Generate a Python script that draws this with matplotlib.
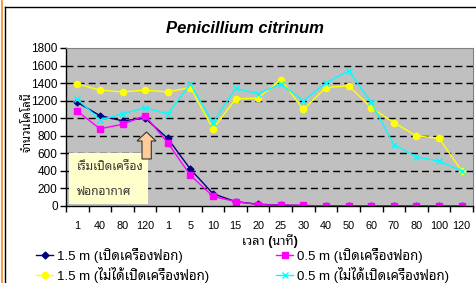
import matplotlib
matplotlib.use("Agg")
import matplotlib.pyplot as plt
import numpy as np
from matplotlib.patches import Rectangle, Polygon
from matplotlib.lines import Line2D

plt.rcParams['font.family'] = ['Liberation Sans', 'Noto Sans Thai Looped']

# เวลา (นาที)
cats = ['1', '40', '80', '120', '1', '5', '10', '15', '20', '25',
        '30', '40', '50', '60', '70', '80', '100', '120']
on_15 = [1180, 1030, 970, 1000, 770, 420, 140, 50, 20, 10, 5, 0, 0, 0, 0, 0, 0, 0]
on_05 = [1080, 880, 930, 1030, 720, 350, 110, 50, 15, 10, 8, 0, 0, 0, 0, 0, 0, 0]
off_15 = [1390, 1320, 1300, 1320, 1300, 1350, 880, 1220, 1230, 1440,
          1100, 1350, 1370, 1120, 950, 800, 770, 400]
off_05 = [1220, 980, 1050, 1120, 1050, 1390, 950, 1340, 1280, 1390,
          1200, 1400, 1540, 1180, 700, 560, 510, 400]

W, H = 477, 283
fig = plt.figure(figsize=(W / 100, H / 100), dpi=100)
ax = fig.add_axes([66 / W, 1 - 206 / H, 407 / W, 158 / H])
ax.set_facecolor('#C0C0C0')

x = np.arange(len(cats))
l1, = ax.plot(x, on_15, color='#000080', marker='D', ms=3.5, lw=1, label='1.5 m (เปิดเครื่องฟอก)')
l2, = ax.plot(x, on_05, color='#FF00FF', marker='s', ms=4.5, lw=1, label='0.5 m (เปิดเครื่องฟอก)')
l3, = ax.plot(x, off_15, color='#FFFF00', marker='o', ms=4.5, lw=1, label='1.5 m (ไม่ได้เปิดเครื่องฟอก)')
l4, = ax.plot(x, off_05, color='#00FFFF', marker='x', ms=5, mew=1, lw=1, label='0.5 m (ไม่ได้เปิดเครื่องฟอก)')

ax.set_xlim(-0.5, len(cats) - 0.5)
ax.set_ylim(0, 1800)
ax.set_yticks(np.arange(0, 1801, 200))
for v in range(200, 1800, 200):
    ax.axhline(v, color='black', lw=1, dashes=(5, 3), zorder=0.5)

ax.set_xticks(x)
ax.set_xticklabels(cats, fontsize=7.8)
ax.set_xticks(np.arange(-0.5, len(cats)), minor=True)
ax.tick_params(axis='x', which='major', length=0, pad=11)
ax.tick_params(axis='x', which='minor', length=4, width=1, direction='out')
ax.tick_params(axis='y', length=4, width=1, direction='out', labelsize=8.5, pad=2)

for s in ['top', 'right']:
    ax.spines[s].set_color('#808080')
    ax.spines[s].set_linewidth(0.8)
for s in ['left', 'bottom']:
    ax.spines[s].set_color('black')
    ax.spines[s].set_linewidth(1)

ax.set_xlabel('เวลา (นาที)', fontsize=9, fontweight='bold', labelpad=2)
ax.set_ylabel('จำนวนโคโลนี', fontsize=8.2, fontweight='bold')
ax.yaxis.set_label_coords(-0.082, 0.53)

# กล่องข้อความ
ax.add_patch(Rectangle((0.0074, 0.0127), 0.194, 0.322, transform=ax.transAxes,
                       facecolor='#FFFFCC', edgecolor='none', zorder=5))
ax.text(0.027, 0.25, 'เริ่มเปิดเครื่อง', transform=ax.transAxes, fontsize=8.5,
        va='center', color='#333333', zorder=6)
ax.text(0.027, 0.09, 'ฟอกอากาศ', transform=ax.transAxes, fontsize=8.5,
        va='center', color='#333333', zorder=6)

# ลูกศร
pts = [(146.5, 132), (156, 141), (151.3, 141), (151.3, 159), (142, 159), (142, 141), (137, 141)]
fig.patches.append(Polygon([(px / W, 1 - py / H) for px, py in pts], closed=True,
                           transform=fig.transFigure, facecolor='#FFCC99',
                           edgecolor='#333333', lw=0.8, zorder=7))

fig.text(245 / W, 1 - 28.5 / H, 'Penicillium citrinum', fontsize=12, fontweight='bold',
         fontstyle='italic', ha='center', va='center')

# กรอบ
fig.add_artist(Line2D([5 / W, 1], [1 - 7 / H, 1 - 7 / H], color='black', lw=1, transform=fig.transFigure))
fig.add_artist(Line2D([5 / W, 5 / W], [0, 1 - 7 / H], color='black', lw=1, transform=fig.transFigure))
fig.add_artist(Line2D([1.5 / W, 1.5 / W], [0, 1], color='#F0A050', lw=1.5, transform=fig.transFigure))

leg1 = fig.legend(handles=[l1, l3], loc='upper left', bbox_to_anchor=(36 / W, 1 - 248 / H),
                  frameon=False, fontsize=9.5, handlelength=1.3, handletextpad=0.3,
                  borderpad=0, borderaxespad=0, labelspacing=0.3)
leg2 = fig.legend(handles=[l2, l4], loc='upper left', bbox_to_anchor=(276 / W, 1 - 248 / H),
                  frameon=False, fontsize=9.5, handlelength=1.3, handletextpad=0.3,
                  borderpad=0, borderaxespad=0, labelspacing=0.3)

fig.savefig('out.png', dpi=100)
